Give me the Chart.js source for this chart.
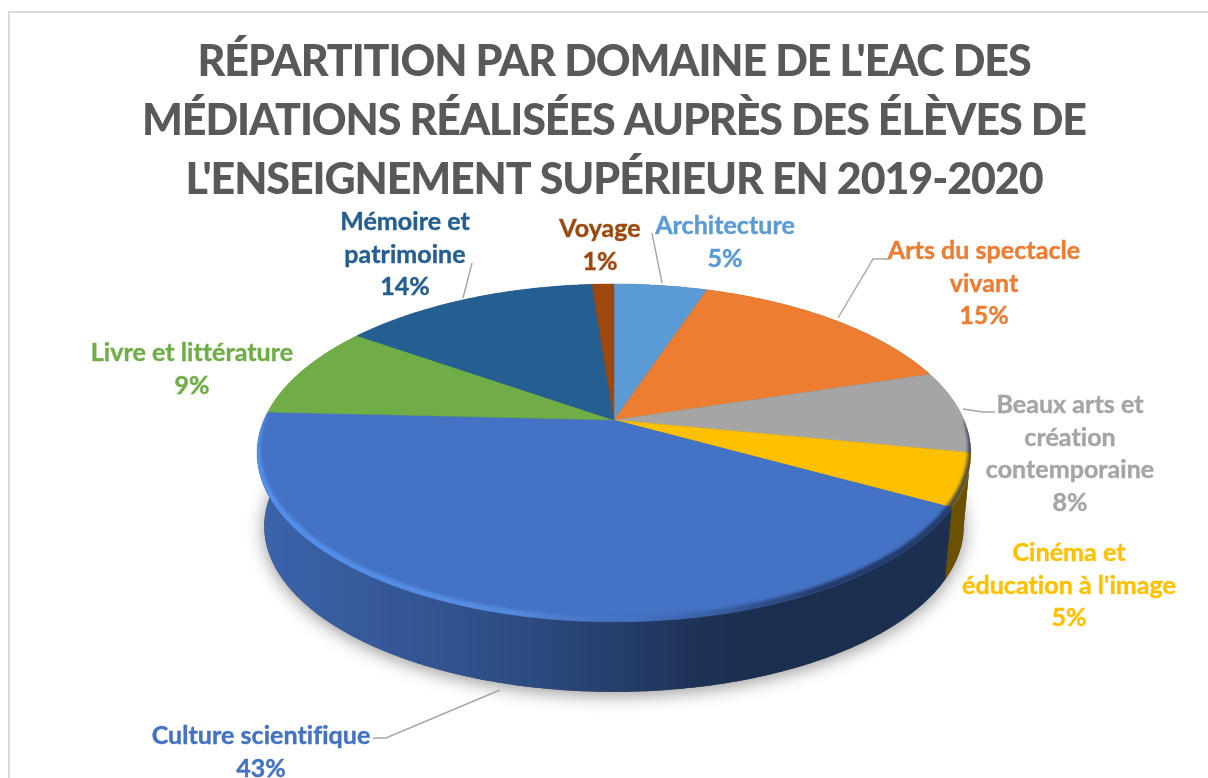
<!DOCTYPE html>
<html>
<head>
<meta charset="utf-8">
<title>Répartition par domaine</title>
<script src="https://cdn.jsdelivr.net/npm/chart.js@4"></script>
<style>
    html, body { margin: 0; padding: 0; background: #fff; overflow: hidden; }
    canvas { display: block; }
</style>
</head>
<body>
<canvas id="pieChart" width="1208" height="778"></canvas>
<script>
// --- Data ---
const titleLines = [
    "RÉPARTITION PAR DOMAINE DE L'EAC DES",
    "MÉDIATIONS RÉALISÉES AUPRÈS DES ÉLÈVES DE",
    "L'ENSEIGNEMENT SUPÉRIEUR EN 2019-2020"
];
const categories = [
    ['Architecture'],
    ['Arts du spectacle', 'vivant'],
    ['Beaux arts et', 'création', 'contemporaine'],
    ['Cinéma et', "éducation à l'image"],
    ['Culture scientifique'],
    ['Livre et littérature'],
    ['Mémoire et', 'patrimoine'],
    ['Voyage']
];
const shares = [5.1, 15.1, 7.9, 5, 42.7, 9, 14, 1.2];

// --- Styles ---
const sliceColors = ['#5b9bd5', '#ed7d31', '#a5a5a5', '#ffc000', '#4472c4', '#70ad47', '#255e91', '#9e480e'];
const sideShadeStops = [[0, .88], [.17, .78], [.39, .65], [.62, .44], [.72, .40], [1, .42]];

// Label anchors: centre x, first line y
const labelAnchors = [[725, 226], [984, 251], [1070, 405], [1069, 553], [261, 736], [192, 353], [405, 222], [600, 229]];
const leaderLines = [
    [[652, 233], [662, 283]],
    [[889, 259], [873, 259], [838, 318]],
    [[995, 412], [983, 412], [963, 409]],
    [],
    [[373, 738], [386, 738], [500, 690]],
    [],
    [[472, 263], [463, 298]],
    []
];

// The disc is seen in perspective, so the apex sits above the centre of the rim ellipse
const disc = { x: 614, y: 420, a: 350, b: 162.5, k: 0.195, depth: 74, bottomScale: 0.98 };

function project(t, r = 1) {
    const u = Math.sin(t) * r, v = Math.cos(t) * r, w = 1 + disc.k * v;
    return [disc.x + disc.a * u / w, disc.y - disc.b * v / w];
}

function projectBottom(t) {
    const [x, y] = project(t);
    return [disc.x + (x - disc.x) * disc.bottomScale, disc.y + disc.depth + (y - disc.y) * disc.bottomScale];
}

function tracePoints(ctx, pts) {
    pts.forEach((p, i) => i ? ctx.lineTo(p[0], p[1]) : ctx.moveTo(p[0], p[1]));
}

function sampleAngles(t0, t1) {
    const n = Math.max(2, Math.ceil((t1 - t0) / 0.01));
    const out = [];
    for (let i = 0; i <= n; i++) out.push(t0 + (t1 - t0) * i / n);
    return out;
}

function shade(hex, f) {
    const n = parseInt(hex.slice(1), 16);
    return `rgb(${(n >> 16 & 255) * f},${(n >> 8 & 255) * f},${(n & 255) * f})`;
}

const pie3dPlugin = {
    id: 'pie3d',
    beforeDraw(chart) {
        // Frame of the original chart, runs off the right and bottom of the picture
        const ctx = chart.ctx;
        ctx.save();
        ctx.strokeStyle = '#d9d9d9';
        ctx.lineWidth = 2;
        ctx.strokeRect(9, 12, 1300, 900);
        ctx.restore();
        // Narrower title glyphs, reset in beforeDatasetsDraw
        ctx.letterSpacing = '-1.1px';
    },
    beforeDatasetsDraw(chart) {
        const ctx = chart.ctx;
        ctx.letterSpacing = '0px';
        const arcs = chart.getDatasetMeta(0).data;
        // Library angles start at -PI/2, the projection wants 0 at the top
        const spans = arcs.map(arc => [arc.startAngle + Math.PI / 2, arc.endAngle + Math.PI / 2]);

        // Soft shadow under the disc
        ctx.save();
        ctx.shadowColor = 'rgba(0,0,0,.42)';
        ctx.shadowBlur = 18;
        ctx.shadowOffsetY = 3;
        ctx.fillStyle = '#444';
        ctx.beginPath();
        tracePoints(ctx, sampleAngles(0, Math.PI * 2).map(projectBottom));
        ctx.closePath();
        ctx.fill();
        ctx.restore();

        // Sides
        spans.forEach(([t0, t1], i) => {
            const ts = sampleAngles(t0, t1);
            const grad = ctx.createLinearGradient(257, 0, 972, 0);
            sideShadeStops.forEach(([s, f]) => grad.addColorStop(s, shade(sliceColors[i], f)));
            ctx.fillStyle = grad;
            ctx.beginPath();
            tracePoints(ctx, ts.map(t => project(t)).concat(ts.slice().reverse().map(projectBottom)));
            ctx.closePath();
            ctx.fill();
        });

        // Top faces
        spans.forEach(([t0, t1], i) => {
            ctx.fillStyle = sliceColors[i];
            ctx.strokeStyle = sliceColors[i];
            ctx.lineWidth = 0.5;
            ctx.beginPath();
            ctx.moveTo(disc.x, disc.y);
            sampleAngles(t0, t1).map(t => project(t)).forEach(p => ctx.lineTo(p[0], p[1]));
            ctx.closePath();
            ctx.fill();
            ctx.stroke();
        });

        // Bevel: light on the left of the rim, dark on the right
        ctx.save();
        ctx.beginPath();
        tracePoints(ctx, sampleAngles(0, Math.PI * 2).map(t => project(t)));
        ctx.closePath();
        ctx.clip();
        const t0 = Math.PI * 0.5, t1 = spans[4][1];
        const ts = sampleAngles(t0, t1);
        const bevel = ctx.createLinearGradient(257, 0, 972, 0);
        bevel.addColorStop(0, 'rgba(84,146,240,.9)');
        bevel.addColorStop(.35, 'rgba(92,150,236,.7)');
        bevel.addColorStop(.5, 'rgba(84,130,210,.1)');
        bevel.addColorStop(.6, 'rgba(26,44,80,.15)');
        bevel.addColorStop(.8, 'rgba(26,44,80,.8)');
        bevel.addColorStop(1, 'rgba(26,44,80,.75)');
        ctx.filter = 'blur(1.5px)';
        ctx.fillStyle = bevel;
        ctx.beginPath();
        tracePoints(ctx, ts.map(t => project(t, 1.01)));
        ts.slice().reverse().forEach(t => {
            const fade = Math.pow(Math.sin(Math.PI * (t - t0) / (t1 - t0)), 0.6);
            const p = project(t, 1 - 0.022 * fade);
            ctx.lineTo(p[0], p[1]);
        });
        ctx.closePath();
        ctx.fill();
        ctx.restore();

        drawLabels(chart);
        return false; // the arcs are already painted in perspective
    }
};

function drawLabels(chart) {
    const ctx = chart.ctx;
    ctx.save();
    ctx.strokeStyle = '#a6a6a6';
    ctx.lineWidth = 1.4;
    leaderLines.forEach(line => {
        if (!line.length) return;
        ctx.beginPath();
        tracePoints(ctx, line);
        ctx.stroke();
    });
    ctx.font = 'bold 25px Lato';
    ctx.letterSpacing = '0.05px'; // keeps the "fi" of scientifique as two letters
    ctx.textAlign = 'center';
    ctx.textBaseline = 'middle';
    ctx.lineWidth = 0.4;
    categories.forEach((lines, i) => {
        ctx.fillStyle = sliceColors[i];
        ctx.strokeStyle = sliceColors[i];
        const [x, y] = labelAnchors[i];
        lines.concat(Math.round(shares[i]) + '%').forEach((text, j) => {
            ctx.fillText(text, x, y + j * 32.7);
            ctx.strokeText(text, x, y + j * 32.7);
        });
    });
    ctx.restore();
    ctx.letterSpacing = '0px';
}

document.addEventListener('DOMContentLoaded', () => {
    new Chart(document.getElementById('pieChart'), {
        type: 'pie',
        data: {
            labels: categories.map(lines => lines.join(' ')),
            datasets: [{ data: shares, backgroundColor: sliceColors }]
        },
        options: {
            responsive: false,
            animation: false,
            layout: { padding: { left: 20 } },
            plugins: {
                legend: { display: false },
                tooltip: { enabled: false },
                title: {
                    display: true,
                    text: titleLines,
                    color: '#595959',
                    font: { family: 'Lato', weight: 900, size: 43, lineHeight: 1.37 },
                    padding: { top: 33, bottom: 10 }
                }
            }
        },
        plugins: [pie3dPlugin]
    });
});
</script>
</body>
</html>
